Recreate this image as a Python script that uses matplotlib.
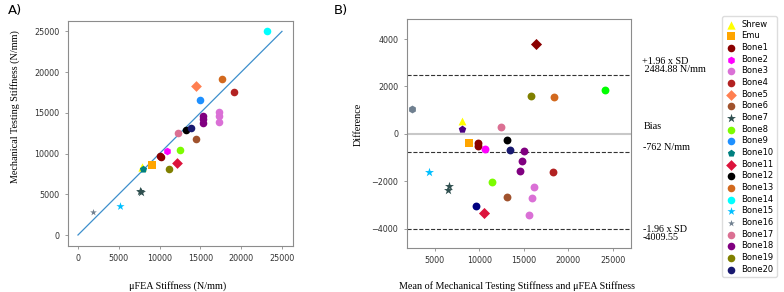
import numpy as np
import matplotlib
matplotlib.use("Agg")
import matplotlib.pyplot as plt

# ---- data: panel A (uFEA stiffness vs mechanical testing stiffness) ----
names = ["Shrew", "Emu", "Bone1", "Bone2", "Bone3", "Bone4", "Bone5", "Bone6",
         "Bone7", "Bone8", "Bone9", "Bone10", "Bone11", "Bone12", "Bone13",
         "Bone14", "Bone15", "Bone16", "Bone17", "Bone18", "Bone19", "Bone20"]
fea = [[7800], [9050], [10100, 10150], [10950], [17300, 17300, 17300], [19100],
       [14500], [14450], [7650, 7700], [12450], [15000], [8000], [12100],
       [13200], [17600], [23200], [5200], [1900], [12250], [15300, 15300, 15300],
       [11100], [13800]]
mech = [[8300], [8650], [9700, 9600], [10350], [15050, 14600, 13900], [17500],
        [18300], [11750], [5450, 5300], [10400], [16600], [8100], [8800],
        [12950], [19200], [25000], [3600], [2850], [12500], [14600, 14200, 13700],
        [8100], [13100]]

# ---- data: panel B (Bland-Altman) ----
ba_mean = [16400, 24150, 15800, 18400, 2400, 8100, 8080, 12400, 13100, 8850,
           9880, 9880, 10650, 13450, 15000, 14800, 14530, 4400, 18300, 11450,
           6600, 6500, 16200, 15950, 15600, 13100, 9650, 10550]
ba_diff = [3780, 1840, 1580, 1560, 1030, 550, 200, 280, -240, -390,
           -400, -520, -630, -660, -730, -1140, -1580, -1590, -1630, -2030,
           -2180, -2380, -2240, -2700, -3440, -2650, -3030, -3320]
upper_loa = 2484.88
bias = -762
lower_loa = -4009.55

# ---- styles ----
colors = ["yellow", "orange", "darkred", "magenta", "orchid", "firebrick", "coral",
          "sienna", "darkslategray", "lawngreen", "dodgerblue", "teal", "crimson",
          "black", "chocolate", "cyan", "deepskyblue", "slategray", "palevioletred",
          "purple", "olive", "midnightblue"]
markers = ["^", "s", "o", "h", "o", "o", "D", "o", "*", "o", "o", "p", "D",
           "o", "o", "o", "*", "*", "o", "o", "o", "o"]
sizes = [36, 34, 30, 30, 30, 30, 30, 30, 46, 30, 30, 30, 30,
         30, 30, 30, 38, 26, 30, 30, 30, 30]
ba_colors = ["darkred", "lime", "olive", "chocolate", "slategray", "yellow", "indigo",
             "palevioletred", "black", "orange", "darkred", "darkred", "magenta",
             "midnightblue", "purple", "purple", "purple", "deepskyblue", "firebrick",
             "lawngreen", "darkslategray", "darkslategray", "orchid", "orchid",
             "orchid", "sienna", "navy", "crimson"]
ba_markers = ["D", "o", "o", "o", "h", "^", "p", "o", "o", "s", "o", "o", "o", "o",
              "o", "o", "o", "*", "o", "o", "*", "*", "o", "o", "o", "o", "o", "D"]

serif = "Liberation Serif"
plt.rcParams["font.family"] = "DejaVu Sans"

fig = plt.figure(figsize=(7.84, 2.92), dpi=100)
ax1 = fig.add_axes([0.0867, 0.1575, 0.287, 0.7705])
ax2 = fig.add_axes([0.5187, 0.1517, 0.2861, 0.7832])

for ax in (ax1, ax2):
    for s in ax.spines.values():
        s.set_color("#8c8c8c")
        s.set_linewidth(0.8)
    ax.tick_params(labelsize=5.8, colors="#8c8c8c", labelcolor="#333333",
                   length=2.5, width=0.6)

# panel A
for i, n in enumerate(names):
    ax1.scatter(fea[i], mech[i], c=colors[i], marker=markers[i], s=sizes[i],
                label=n, zorder=3, linewidths=0)
ax1.plot([0, 25000], [0, 25000], color="#3d8fcc", lw=0.9, zorder=2)
ax1.set_xlim(-1225, 26350)
ax1.set_ylim(-1350, 26270)
ax1.set_xticks([0, 5000, 10000, 15000, 20000, 25000])
ax1.set_yticks([0, 5000, 10000, 15000, 20000, 25000])

# panel B
for i in range(len(ba_mean)):
    sz = 46 if ba_markers[i] == "*" else 32
    ax2.scatter(ba_mean[i], ba_diff[i], c=ba_colors[i], marker=ba_markers[i],
                s=sz, zorder=3, linewidths=0)
ax2.axhline(0, color="#c8c8c8", lw=1.5, zorder=1)
for v in (upper_loa, bias, lower_loa):
    ax2.axhline(v, color="#333333", lw=0.8, ls="--", zorder=2)
ax2.set_xlim(1850, 27050)
ax2.set_ylim(-4802, 4844)
ax2.set_xticks([5000, 10000, 15000, 20000, 25000])
ax2.set_yticks([-4000, -2000, 0, 2000, 4000])

tx = 28250
ax2.text(tx, 2880, "+1.96 x SD\n 2484.88 N/mm", fontsize=7.3, family=serif,
         va="center", ha="left", linespacing=0.95, clip_on=False)
ax2.text(tx + 250, 330, "Bias", fontsize=7.3, family=serif, va="center",
         ha="left", clip_on=False)
ax2.text(tx + 100, -560, "-762 N/mm", fontsize=7.3, family=serif, va="center",
         ha="left", clip_on=False)
ax2.text(tx + 100, -4200, "-1.96 x SD\n-4009.55", fontsize=7.3, family=serif,
         va="center", ha="left", linespacing=0.95, clip_on=False)

# labels
fig.text(0.226, 0.02, "\u03bcFEA Stiffness (N/mm)", fontsize=7.3, family=serif,
         ha="center", va="center")
fig.text(0.019, 0.634, "Mechanical Testing Stiffness (N/mm)", fontsize=7.3,
         family=serif, rotation=90, ha="center", va="center")
fig.text(0.66, 0.02, "Mean of Mechanical Testing Stiffness and \u03bcFEA Stiffness",
         fontsize=7.3, family=serif, ha="center", va="center")
fig.text(0.457, 0.575, "Difference", fontsize=7.3, family=serif, rotation=90,
         ha="center", va="center")
fig.text(0.019, 0.963, "A)", fontsize=9.5, ha="center", va="center")
fig.text(0.435, 0.963, "B)", fontsize=9.5, ha="center", va="center")

fig.legend(loc="upper left", bbox_to_anchor=(0.916, 0.958), fontsize=6,
           labelspacing=0.32, handletextpad=0.7, borderpad=0.4, handlelength=1.2,
           frameon=True, edgecolor="#dddddd", fancybox=True, framealpha=1)

fig.savefig("out.png", dpi=100)
